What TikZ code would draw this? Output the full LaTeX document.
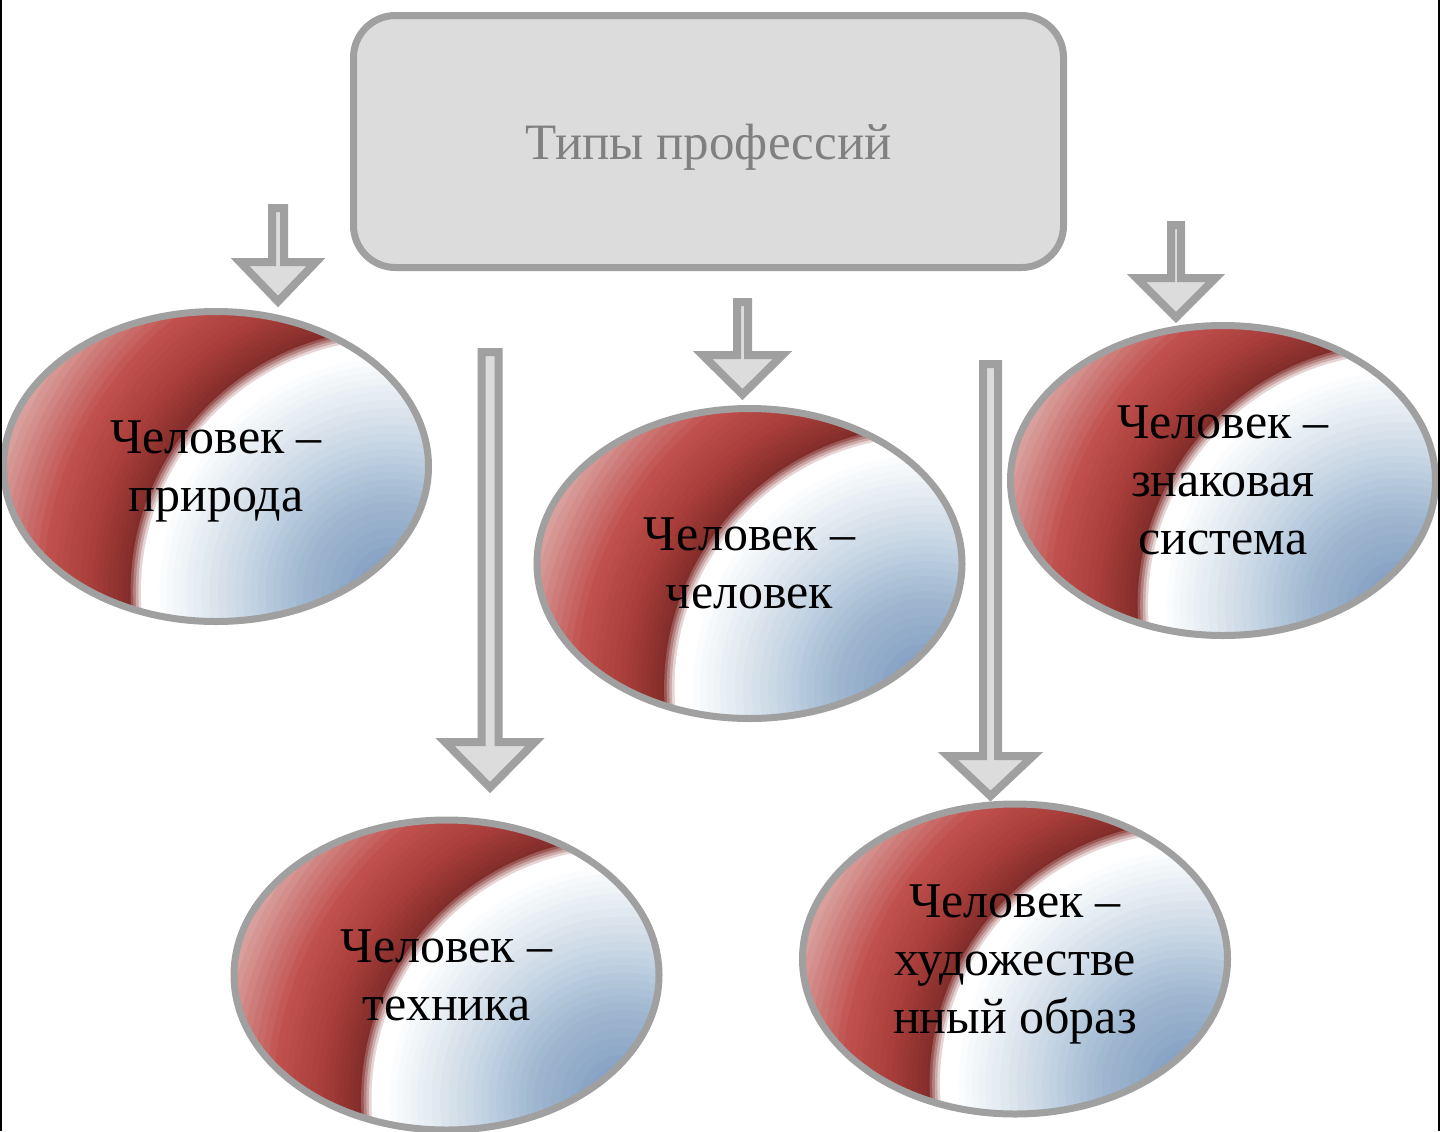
\documentclass[tikz,border=0pt]{standalone}
\usepackage{fontspec}
\setmainfont{Liberation Serif}
\usetikzlibrary{shapes.geometric}

\definecolor{edgegray}{RGB}{160,160,160}
\definecolor{boxgray}{RGB}{220,220,220}
\definecolor{titlegray}{RGB}{128,128,128}
\definecolor{deepblue}{RGB}{122,150,190}
\definecolor{midblue}{RGB}{157,181,207}
\definecolor{paleblue}{RGB}{197,213,227}
\definecolor{iceblue}{RGB}{229,236,242}
\definecolor{darkred}{RGB}{130,45,42}
\definecolor{brickred}{RGB}{165,60,57}
\definecolor{midred}{RGB}{192,80,77}
\definecolor{pinkred}{RGB}{220,168,165}

% rings round a point below right of the ellipse
\newcommand{\humanfill}{%
    \fill[pinkred] (path picture bounding box.south west) rectangle (path picture bounding box.north east);
    \foreach \ra/\rb/\ca/\cb/\steps in
        {420/350/pinkred/midred/10, 350/300/midred/brickred/8, 300/265/brickred/darkred/7,
         265/252/darkred/white/5, 252/240/white/white/1, 240/200/white/iceblue/6,
         200/150/iceblue/paleblue/6, 150/90/paleblue/midblue/8, 90/0/midblue/deepblue/10}{
        \foreach \k in {1,...,\steps}{
            \pgfmathtruncatemacro{\pct}{100*(\k-1)/\steps}
            \pgfmathsetmacro{\rad}{(\ra-(\ra-\rb)*(\k-1)/\steps)*0.5}
            \fill[\cb!\pct!\ca] ([shift={(88.5pt,-62.5pt)}]path picture bounding box.center)
                circle[radius=\rad pt];
        }
    }
}

\tikzset{
    typesbox/.style={rectangle, rounded corners=21pt, draw=edgegray, fill=boxgray,
        line width=3.5pt, minimum width=355pt, minimum height=126pt,
        text=titlegray, text depth=0pt, font=\fontsize{25.5}{30}\selectfont},
    person/.style={ellipse, draw=edgegray, line width=3.5pt,
        minimum width=212.5pt, minimum height=155pt, align=center, text depth=0pt,
        font=\fontsize{25}{29}\selectfont, path picture={\humanfill}},
    blockarrow/.style={draw=edgegray, fill=boxgray, line width=4pt}
    }

\begin{document}
\begin{tikzpicture}[x=0.5pt, y=-0.5pt]
    \useasboundingbox (0,0) rectangle (1440,1131);
    % The types
    \node[typesbox] (types) at (708.5,141.5) {Типы профессий};
    \node[person] (nature) at (216,466.5) {Человек –\\природа};
    \node[person] (people) at (749.5,563.5) {Человек –\\человек};
    \node[person] (signs) at (1223,480.5) {Человек –\\знаковая\\система};
    \node[person] (tech) at (446.5,975) {Человек –\\техника};
    \node[person] (art) at (1015,959) {Человек –\\художестве\\нный образ};
    % The arrows
    \foreach \cx/\ytop/\yhead/\ytip/\sw/\hw in {278/208/262/301.5/6/38,
            490/352/742/787.5/8.5/45, 742.5/302/355/394.5/5.5/40,
            990.5/364/756/796/7.5/42.5, 1176/225/278/317.5/5/39.5}
        \draw[blockarrow] (\cx-\sw,\ytop) -- (\cx+\sw,\ytop) -- (\cx+\sw,\yhead)
            -- (\cx+\hw,\yhead) -- (\cx,\ytip) -- (\cx-\hw,\yhead)
            -- (\cx-\sw,\yhead) -- cycle;
    % page edges
    \draw[black, line width=1pt] (1,0) -- (1,1131);
    \draw[black, line width=1pt] (1438.5,0) -- (1438.5,1131);
\end{tikzpicture}
\end{document}
